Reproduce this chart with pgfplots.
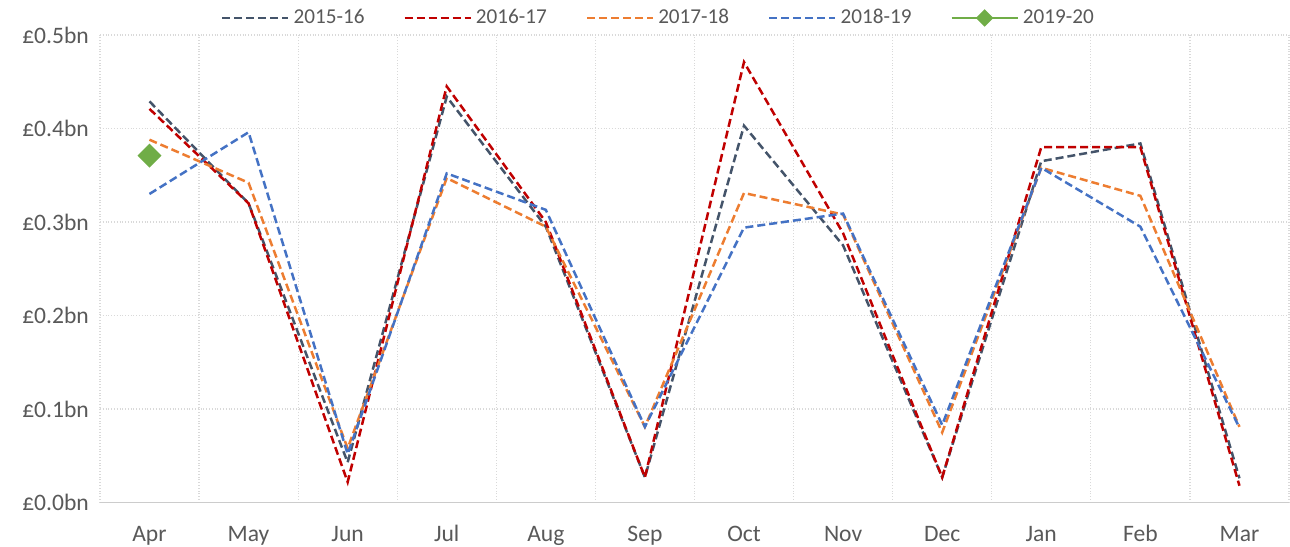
\documentclass[border=0pt]{standalone}
\usepackage{fontspec}
\setmainfont{Carlito}
\usepackage{pgfplots}
\pgfplotsset{compat=1.18}
\definecolor{cgray}{HTML}{44546A}
\definecolor{cred}{HTML}{C00000}
\definecolor{corange}{HTML}{ED7D31}
\definecolor{cblue}{HTML}{4472C4}
\definecolor{cgreen}{HTML}{70AD47}
\definecolor{txt}{HTML}{595959}
\begin{document}
\begin{tikzpicture}
\begin{axis}[
  name=ax,
  scale only axis,
  width=595pt, height=234pt,
  xmin=-0.5, xmax=11.5, ymin=0, ymax=0.5,
  xtick={0,...,11},
  xticklabels={Apr,May,Jun,Jul,Aug,Sep,Oct,Nov,Dec,Jan,Feb,Mar},
  minor xtick={-0.5,0.5,...,11.5},
  ytick={0,0.1,...,0.5},
  major tick length=0pt, minor tick length=0pt,
  xmajorgrids=false, xminorgrids=true, ymajorgrids=true,
  minor grid style={draw=gray!30, densely dotted, line width=0.6pt},
  major grid style={draw=gray!30, densely dotted, line width=0.6pt},
  axis x line*=bottom, axis y line*=left,
  x axis line style={draw=gray!40, line width=0.7pt},
  y axis line style={draw=none},
  /pgf/number format/assume math mode=true,
  yticklabel={\pounds\pgfmathprintnumber[fixed,fixed zerofill,precision=1]{\tick}bn},
  tick label style={font=\fontsize{11.8}{13}\selectfont, text=txt},
  xticklabel style={anchor=base, yshift=-19.5pt},
  yticklabel style={anchor=east, xshift=-2pt},
  legend style={at={(0.5,1)}, anchor=center, xshift=-17.5pt, yshift=8.5pt, draw=none, fill=none, legend columns=5,
    font=\fontsize{10.6}{12}\selectfont, text=txt,
    /tikz/every even column/.append style={column sep=17.5pt}},
  legend image code/.code={\draw[#1] (0pt,0pt) -- (33pt,0pt);},
  every axis plot/.append style={line width=1.25pt},
]
\addplot[cgray, dash pattern=on 4pt off 2pt] coordinates {(0,0.429)(1,0.320)(2,0.043)(3,0.434)(4,0.295)(5,0.027)(6,0.403)(7,0.275)(8,0.027)(9,0.365)(10,0.384)(11,0.026)};
\addlegendentry{2015-16}
\addplot[cred, dash pattern=on 4pt off 2pt] coordinates {(0,0.421)(1,0.320)(2,0.022)(3,0.445)(4,0.300)(5,0.027)(6,0.471)(7,0.288)(8,0.027)(9,0.380)(10,0.380)(11,0.018)};
\addlegendentry{2016-17}
\addplot[corange, dash pattern=on 4pt off 2pt] coordinates {(0,0.388)(1,0.342)(2,0.058)(3,0.347)(4,0.295)(5,0.081)(6,0.331)(7,0.308)(8,0.075)(9,0.358)(10,0.328)(11,0.081)};
\addlegendentry{2017-18}
\addplot[cblue, dash pattern=on 4pt off 2pt] coordinates {(0,0.330)(1,0.396)(2,0.052)(3,0.352)(4,0.313)(5,0.081)(6,0.294)(7,0.309)(8,0.083)(9,0.358)(10,0.295)(11,0.080)};
\addlegendentry{2018-19}
\addplot[cgreen, solid, mark=square*, mark size=3.6pt, mark options={rotate=45, fill=cgreen, draw=cgreen},
  legend image code/.code={\draw[cgreen, line width=1.25pt] (0pt,0pt) -- (33pt,0pt);
    \fill[cgreen] (16.5pt,3.5pt) -- (20pt,0pt) -- (16.5pt,-3.5pt) -- (13pt,0pt) -- cycle;}] coordinates {(0,0.371)};
\addlegendentry{2019-20}
\end{axis}
\pgfresetboundingbox
\path[use as bounding box] ([xshift=-50pt,yshift=-22pt]ax.south west) rectangle ([xshift=0.5pt,yshift=17.5pt]ax.north east);
\end{tikzpicture}
\end{document}
